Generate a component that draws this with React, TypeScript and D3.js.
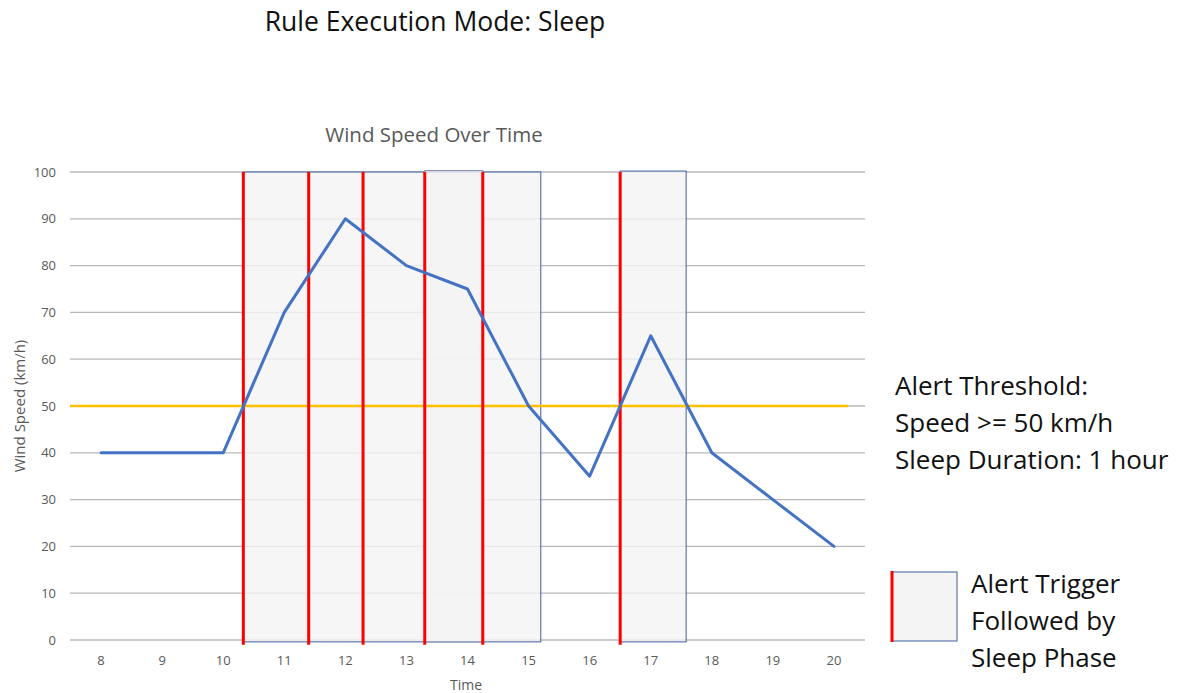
import React from 'react';
import * as d3 from 'd3';

const hours = [8, 9, 10, 11, 12, 13, 14, 15, 16, 17, 18, 19, 20];
const windSpeed = [40, 40, 40, 70, 90, 80, 75, 50, 35, 65, 40, 30, 20];
const yTicks = [0, 10, 20, 30, 40, 50, 60, 70, 80, 90, 100];
const threshold = 50;
// alert triggers (hour where the rule fired)
const triggers = [10.33, 11.4, 12.29, 13.3, 14.25, 16.5];
// sleep phase blocks as drawn
const sleepStart = [10.33, 12.29, 13.3, 16.5];
const sleepEnd = [12.29, 15.2, 14.25, 17.58];
const sleepTop = [100, 100, 100.3, 100.2];
const notes = ['Alert Threshold:', 'Speed >= 50 km/h', 'Sleep Duration: 1 hour'];
const legendLines = ['Alert Trigger', 'Followed by', 'Sleep Phase'];

const W = 1187;
const H = 693;
const font = "'Open Sans', 'Noto Sans', sans-serif";

const App: React.FC = () => {
  const x = d3.scaleLinear().domain([7.5, 20.5]).range([70.5, 864.5]);
  const y = d3.scaleLinear().domain([0, 100]).range([640, 172]);

  const line = d3.line<number>()
    .x((_, i) => x(hours[i]))
    .y(d => y(d));

  return (
    <svg width={W} height={H} style={{ position: 'absolute', left: 0, top: 0, background: '#fff' }}>
      <text x={435} y={31} textAnchor="middle" fontFamily={font} fontSize={26.5} fill="#111">
        Rule Execution Mode: Sleep
      </text>
      <text x={434} y={142} textAnchor="middle" fontFamily={font} fontSize={20.5} fill="#595959">
        Wind Speed Over Time
      </text>

      {/* gridlines */}
      {yTicks.map(t => (
        <line key={t} x1={70} x2={865} y1={y(t)} y2={y(t)} stroke="#b8b8b8" strokeWidth={1.3} />
      ))}
      {yTicks.map(t => (
        <text key={'l' + t} x={56} y={y(t)} dy="0.35em" textAnchor="end" fontFamily={font} fontSize={13} fill="#595959">
          {t}
        </text>
      ))}
      {hours.map(h => (
        <text key={'h' + h} x={x(h)} y={665} textAnchor="middle" fontFamily={font} fontSize={13} fill="#595959">
          {h}
        </text>
      ))}
      <text x={466} y={690} textAnchor="middle" fontFamily={font} fontSize={14} fill="#595959">Time</text>
      <text transform={`translate(25,${y(50)}) rotate(-90)`} textAnchor="middle" fontFamily={font} fontSize={15} fill="#595959">
        Wind Speed (km/h)
      </text>

      {/* sleep phases */}
      {sleepStart.map((s, i) => (
        <rect key={'s' + i} x={x(s)} y={y(sleepTop[i])} width={x(sleepEnd[i]) - x(s)}
          height={y(-0.4) - y(sleepTop[i])}
          fill="#f4f4f4" fillOpacity={0.8} stroke={i === 2 ? '#7f8ba8' : '#3f5e9e'} strokeWidth={1} />
      ))}

      {/* threshold */}
      <line x1={70} x2={848} y1={y(threshold)} y2={y(threshold)} stroke="#ffc000" strokeWidth={2.5} />

      {/* triggers */}
      {triggers.map((t, i) => (
        <line key={'t' + i} x1={x(t)} x2={x(t)} y1={y(100)} y2={y(-1)} stroke="#ff0000" strokeWidth={3} />
      ))}

      <path d={line(windSpeed) || ''} fill="none" stroke="#4472c4" strokeWidth={3} strokeLinejoin="round" strokeLinecap="round" />

      {/* notes */}
      {notes.map((n, i) => (
        <text key={'n' + i} x={895} y={395 + i * 37} fontFamily={font} fontSize={26} fill="#111">{n}</text>
      ))}

      {/* legend */}
      <rect x={892} y={572} width={65} height={69} fill="#f4f4f4" stroke="#3f5e9e" strokeWidth={1} />
      <line x1={892} x2={892} y1={571} y2={642} stroke="#ff0000" strokeWidth={3} />
      {legendLines.map((l, i) => (
        <text key={'g' + i} x={971} y={593 + i * 37} fontFamily={font} fontSize={26} fill="#111">{l}</text>
      ))}
    </svg>
  );
};

export default App;
